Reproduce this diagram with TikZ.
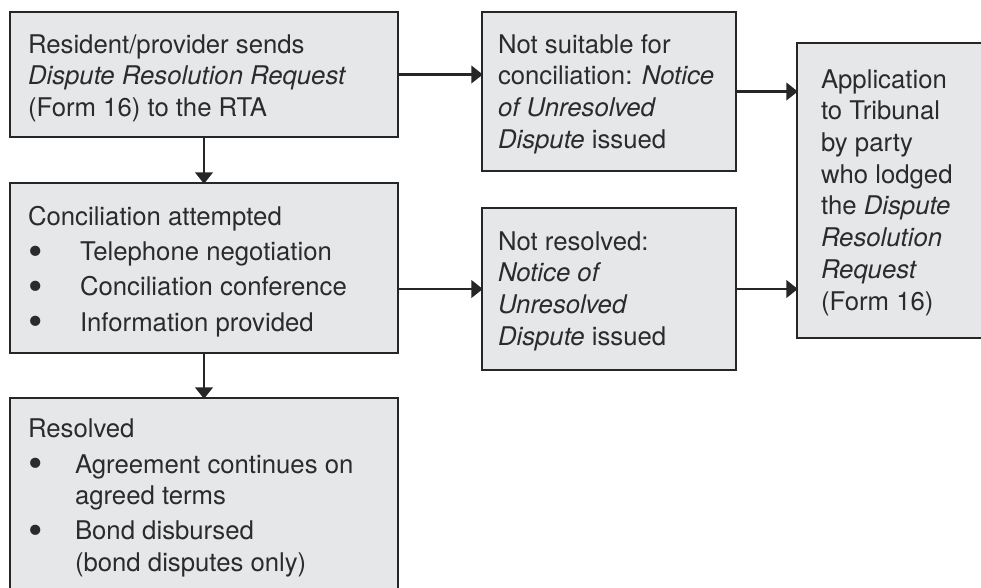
\documentclass[tikz,border=0pt]{standalone}
\usepackage{fontspec}
\setmainfont{TeX Gyre Heros}
\usetikzlibrary{arrows.meta}
\definecolor{boxfill}{HTML}{E6E7E8}
\definecolor{boxline}{HTML}{262626}
\definecolor{txtcol}{HTML}{2B2B2B}
\newcommand{\bigbul}{\raisebox{-3.6pt}{\scalebox{1.6}{\textbullet}}}
\newcommand{\bulB}{\makebox[39pt][l]{\bigbul}}
\newcommand{\bulC}{\makebox[35.25pt][l]{\bigbul}}
\newcommand{\indC}{\hspace*{35.25pt}}
\begin{document}
\begin{tikzpicture}[x=0.75pt,y=-0.75pt,
  box/.style={draw=boxline, fill=boxfill, line width=1.9pt, anchor=north west,
    inner sep=0pt, outer sep=0pt},
  txt/.style={anchor=base west, inner sep=0pt, outer sep=0pt, text=txtcol,
    font=\fontsize{19.3}{23.8}\selectfont},
  arr/.style={draw=boxline, line width=1.9pt, -{Triangle[length=8.5pt,width=13pt]}, shorten >=-0.6pt}]
\useasboundingbox (0,0) rectangle (981,587);
\clip (0,0) rectangle (981,587);
% boxes
\node[box, minimum width=291pt, minimum height=93.75pt] (A) at (10,12) {};
\node[box, minimum width=291pt, minimum height=127.5pt] (B) at (10,183) {};
\node[box, minimum width=291pt, minimum height=165pt] (C) at (10,398) {};
\node[box, minimum width=190.5pt, minimum height=119.25pt] (D) at (482,12) {};
\node[box, minimum width=190.5pt, minimum height=121.5pt] (E) at (482,208) {};
\node[box, minimum width=150pt, minimum height=221.25pt] (F) at (797,43) {};
% texts
\node[txt] (At) at (28,53) {\begin{tabular}[t]{@{}l@{}}
Resident/provider sends\\
\textit{Dispute Resolution Request}\\
(Form 16) to the RTA\end{tabular}};
\node[txt] (Bt) at (28,225) {\begin{tabular}[t]{@{}l@{}}
Conciliation attempted\\[2.7pt]
\bulB Telephone negotiation\\[2.7pt]
\bulB Conciliation conference\\[2.7pt]
\bulB Information provided\end{tabular}};
\node[txt] (Ct) at (28,437) {\begin{tabular}[t]{@{}l@{}}
Resolved\\[3.2pt]
\bulC Agreement continues on\\
\indC agreed terms\\[2.5pt]
\bulC Bond disbursed\\
\indC (bond disputes only)\end{tabular}};
\node[txt] (Dt) at (498,53) {\begin{tabular}[t]{@{}l@{}}
Not suitable for\\
conciliation: \textit{Notice}\\
\textit{of Unresolved}\\
\textit{Dispute} issued\end{tabular}};
\node[txt] (Et) at (498,250) {\begin{tabular}[t]{@{}l@{}}
Not resolved:\\
\textit{Notice of}\\
\textit{Unresolved}\\
\textit{Dispute} issued\end{tabular}};
\node[txt] (Ft) at (821,88) {\begin{tabular}[t]{@{}l@{}}
Application\\
to Tribunal\\
by party\\
who lodged\\
the \textit{Dispute}\\
\textit{Resolution}\\
\textit{Request}\\
(Form 16)\end{tabular}};
% connectors
\draw[arr] (A.south) -- (B.north);
\draw[arr] (B.south) -- (C.north);
\draw[arr] (A.east) -- (A.east -| D.west);
\draw[arr] (D.east) -- (D.east -| F.west);
\draw[arr] (E.west -| B.east) -- (E.west);
\draw[arr] (E.east) -- (E.east -| F.west);
\end{tikzpicture}
\end{document}
